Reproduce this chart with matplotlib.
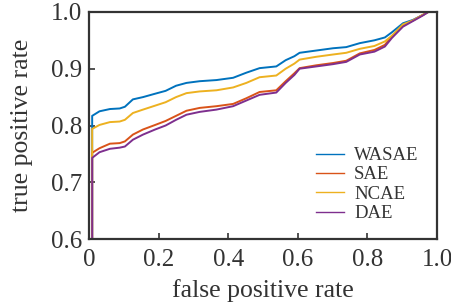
import matplotlib
matplotlib.use("Agg")
import matplotlib.pyplot as plt

# ROC data
fpr = [0.009, 0.009, 0.03, 0.06, 0.088, 0.103, 0.126, 0.155, 0.19, 0.22, 0.25, 0.28,
       0.318, 0.366, 0.414, 0.452, 0.49, 0.538, 0.565, 0.59, 0.605, 0.653,
       0.701, 0.739, 0.778, 0.82, 0.85, 0.87, 0.902, 0.931, 0.96, 0.975, 1.0]

wasae = [0.0, 0.817, 0.825, 0.829, 0.830, 0.833, 0.846, 0.850, 0.856, 0.861, 0.870, 0.875,
         0.878, 0.880, 0.884, 0.893, 0.901, 0.904, 0.915, 0.922, 0.928, 0.932,
         0.936, 0.938, 0.945, 0.950, 0.955, 0.964, 0.980, 0.986, 0.995, 1.0, 1.0]
sae = [0.0, 0.752, 0.760, 0.768, 0.769, 0.772, 0.784, 0.793, 0.801, 0.808, 0.817, 0.826,
       0.831, 0.834, 0.838, 0.848, 0.859, 0.862, 0.878, 0.892, 0.901, 0.906,
       0.910, 0.914, 0.927, 0.933, 0.942, 0.957, 0.976, 0.985, 0.995, 1.0, 1.0]
ncae = [0.0, 0.794, 0.801, 0.806, 0.807, 0.810, 0.822, 0.828, 0.835, 0.841, 0.850, 0.857,
        0.860, 0.862, 0.867, 0.875, 0.885, 0.888, 0.900, 0.909, 0.916, 0.921,
        0.925, 0.928, 0.935, 0.940, 0.948, 0.958, 0.978, 0.985, 0.995, 1.0, 1.0]
dae = [0.0, 0.743, 0.753, 0.759, 0.761, 0.763, 0.775, 0.784, 0.793, 0.800, 0.810, 0.819,
       0.824, 0.828, 0.834, 0.844, 0.854, 0.858, 0.875, 0.889, 0.900, 0.904,
       0.908, 0.912, 0.925, 0.930, 0.939, 0.954, 0.974, 0.984, 0.994, 1.0, 1.0]

labels = ["WASAE", "SAE", "NCAE", "DAE"]
colors = ["#0072BD", "#D95319", "#EDB120", "#7E2F8E"]

plt.rcParams["font.family"] = "Liberation Serif"

fig = plt.figure(figsize=(4.52, 3.05), dpi=100)
ax = fig.add_axes([0.197, 0.216, 0.77, 0.745])

for y, lab, c in zip([wasae, sae, ncae, dae], labels, colors):
    ax.plot(fpr, y, color=c, lw=1.4, label=lab)

ax.set_xlim(0, 1)
ax.set_ylim(0.6, 1.0)
ax.set_xticks([0, 0.2, 0.4, 0.6, 0.8, 1.0])
ax.set_xticklabels(["0", "0.2", "0.4", "0.6", "0.8", "1.0"])
ax.set_yticks([0.6, 0.7, 0.8, 0.9, 1.0])
ax.set_yticklabels(["0.6", "0.7", "0.8", "0.9", "1.0"])
ax.tick_params(direction="in", length=4, width=1.2, labelsize=18, pad=5, color="#333333", labelcolor="#333333")
ax.tick_params(axis="x", pad=7)
for s in ax.spines.values():
    s.set_linewidth(1.6)
    s.set_color("#333333")

ax.set_xlabel("false positive rate", fontsize=18.5, color="#333333", labelpad=6)
ax.set_ylabel("true positive rate", fontsize=18.5, color="#333333", labelpad=13)

leg = ax.legend(loc="lower right", frameon=False, fontsize=13.5, handlelength=1.5,
                labelspacing=0.12, handletextpad=0.55, bbox_to_anchor=(0.995, 0.0))
for t in leg.get_texts():
    t.set_color("#333333")
for l in leg.get_lines():
    l.set_linewidth(1.0)

fig.savefig("out.png", dpi=100)
